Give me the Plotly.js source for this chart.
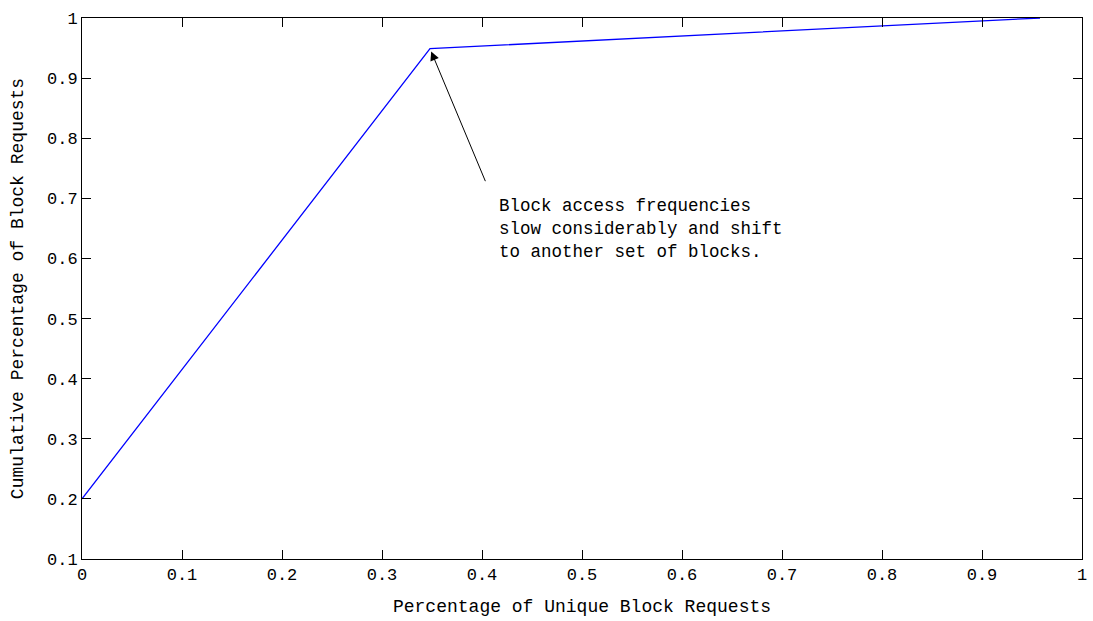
<!DOCTYPE html>
<html>
<head>
<meta charset="utf-8">
<script src="https://cdn.plot.ly/plotly-3.0.1.min.js"></script>
<style>html,body{margin:0;padding:0;background:#fff;}#chart{width:1093px;height:621px;}</style>
</head>
<body>
<div id="chart"></div>
<script>
const uniquePct = [0, 0.348, 0.958];
const cumulativePct = [0.2, 0.949, 1.0];
const xTicks = [0, 0.1, 0.2, 0.3, 0.4, 0.5, 0.6, 0.7, 0.8, 0.9, 1];
const xTickText = ["0", "0.1", "0.2", "0.3", "0.4", "0.5", "0.6", "0.7", "0.8", "0.9", "1"];
const yTicks = [0.1, 0.2, 0.3, 0.4, 0.5, 0.6, 0.7, 0.8, 0.9, 1];
const yTickText = ["0.1", "0.2", "0.3", "0.4", "0.5", "0.6", "0.7", "0.8", "0.9", "1"];
const noteText = "Block access frequencies<br>slow considerably and shift<br>to another set of blocks.";

const font = {family: "Liberation Mono, DejaVu Sans Mono, monospace", size: 17, color: "#000"};
const titleFont = {family: "Liberation Mono, DejaVu Sans Mono, monospace", size: 18, color: "#000"};

const trace = {
  x: uniquePct, y: cumulativePct, type: "scatter", mode: "lines",
  line: {color: "#0000ff", width: 1.3}, hoverinfo: "skip"
};

const axisCommon = {
  showline: true, linecolor: "#000", linewidth: 1, mirror: "allticks",
  ticks: "inside", ticklen: 9, tickcolor: "#000", tickwidth: 1,
  showgrid: false, zeroline: false, tickfont: font, tickmode: "array"
};

const layout = {
  width: 1093, height: 621,
  margin: {l: 82, r: 11, t: 18, b: 62},
  paper_bgcolor: "#fff", plot_bgcolor: "#fff",
  showlegend: false,
  font: font,
  xaxis: Object.assign({}, axisCommon, {
    range: [0, 1], tickvals: xTicks, ticktext: xTickText,
    title: {text: "Percentage of Unique Block Requests", font: titleFont, standoff: 14}
  }),
  yaxis: Object.assign({}, axisCommon, {
    range: [0.1, 1], tickvals: yTicks, ticktext: yTickText,
    title: {text: "Cumulative Percentage of Block Requests", font: titleFont, standoff: 18}
  }),
  annotations: [
    {
      x: uniquePct[1], y: cumulativePct[1], xref: "x", yref: "y",
      ax: 56, ay: 134, axref: "pixel", ayref: "pixel",
      text: "", showarrow: true, arrowhead: 2, arrowsize: 1.8, arrowwidth: 1,
      arrowcolor: "#000", standoff: 3
    },
    {
      x: 0.415, y: 0.708, xref: "x", yref: "y", xanchor: "left", yanchor: "top",
      text: noteText, showarrow: false, align: "left",
      font: {family: "Liberation Mono, DejaVu Sans Mono, monospace", size: 17.5, color: "#000"}
    }
  ]
};

Plotly.newPlot("chart", [trace], layout, {staticPlot: true, displayModeBar: false});
</script>
</body>
</html>
